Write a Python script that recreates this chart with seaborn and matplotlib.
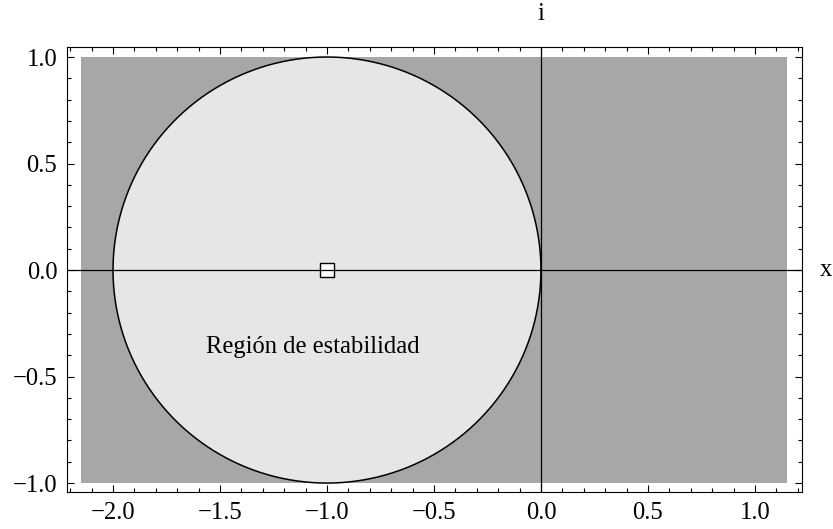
import numpy as np
import pandas as pd
import matplotlib
matplotlib.use("Agg")
import matplotlib.pyplot as plt
from matplotlib.ticker import MultipleLocator, FuncFormatter
import seaborn as sns

# ---- data ----
region_x = [-2.15, 1.15]          # extent of the plotted region (real part)
region_y = [-1.0, 1.0]            # extent of the plotted region (imag part)
circle_center = [-1.0, 0.0]       # stability region |1+z| <= 1
circle_radius = 1.0
marker_x = [-1.0]
marker_y = [0.0]
label_text = "Región de estabilidad"
label_pos = [-1.068, -0.39]
xticks = [-2.0, -1.5, -1.0, -0.5, 0.0, 0.5, 1.0]
yticks = [-1.0, -0.5, 0.0, 0.5, 1.0]
xlim = [-2.215, 1.22]
ylim = [-1.042, 1.047]

sns.set_theme(style="ticks")
plt.rcParams['font.family'] = ['Liberation Serif', 'DejaVu Serif']
plt.rcParams['text.color'] = 'black'
plt.rcParams['xtick.labelcolor'] = 'black'
plt.rcParams['ytick.labelcolor'] = 'black'
FS = 17.7

fig, ax = plt.subplots(figsize=(8.33, 5.29), dpi=100)
fig.subplots_adjust(left=67/833, right=802/833, top=1-47/529, bottom=1-492/529)

# unstable region (dark gray rectangle)
ax.fill([region_x[0], region_x[1], region_x[1], region_x[0]],
        [region_y[0], region_y[0], region_y[1], region_y[1]],
        color="#a7a7a7", lw=0, zorder=1)

# stability circle
t = np.linspace(0, 2*np.pi, 721)
circ = pd.DataFrame({"x": circle_center[0] + circle_radius*np.cos(t),
                     "y": circle_center[1] + circle_radius*np.sin(t)})
ax.fill(circ["x"], circ["y"], color="#e6e6e6", lw=0, zorder=2)
sns.lineplot(data=circ, x="x", y="y", sort=False, estimator=None,
             color="black", lw=1.1, ax=ax, zorder=3)

# marker
sns.scatterplot(x=marker_x, y=marker_y, marker="s", s=110, facecolor="white",
                edgecolor="black", linewidth=1.0, ax=ax, zorder=4)

# axes lines
ax.axhline(0, color="black", lw=0.9, zorder=5)
ax.axvline(0, color="black", lw=0.9, zorder=5)

ax.text(label_pos[0], label_pos[1], label_text, ha="center", va="baseline",
        fontsize=FS, color="black", zorder=6)

ax.set_xlim(xlim)
ax.set_ylim(ylim)
ax.set_xlabel("")
ax.set_ylabel("")

fmt = FuncFormatter(lambda v, p: ("%.1f" % v).replace("-", "\u2212") if abs(v) > 1e-9 else "0.0")
ax.set_xticks(xticks)
ax.set_yticks(yticks)
ax.xaxis.set_major_formatter(fmt)
ax.yaxis.set_major_formatter(fmt)
ax.xaxis.set_minor_locator(MultipleLocator(0.1))
ax.yaxis.set_minor_locator(MultipleLocator(0.1))
ax.tick_params(which="both", direction="in", top=True, right=True,
               color="black", width=0.8, labelsize=FS, labelcolor="black")
ax.tick_params(which="major", length=5.2)
ax.tick_params(which="minor", length=3.2)
ax.tick_params(axis="x", which="major", pad=7)
ax.tick_params(axis="y", which="major", pad=7)
for s in ax.spines.values():
    s.set_linewidth(0.8)
    s.set_color("black")

ax.annotate("x", xy=(1, 0), xycoords=("axes fraction", "data"),
            xytext=(13, 0), textcoords="offset points",
            ha="left", va="center", fontsize=FS, color="black",
            annotation_clip=False)
ax.annotate("i", xy=(0, 1), xycoords=("data", "axes fraction"),
            xytext=(0, 16), textcoords="offset points",
            ha="center", va="bottom", fontsize=FS, color="black",
            annotation_clip=False)

fig.savefig("out.png", dpi=100)
